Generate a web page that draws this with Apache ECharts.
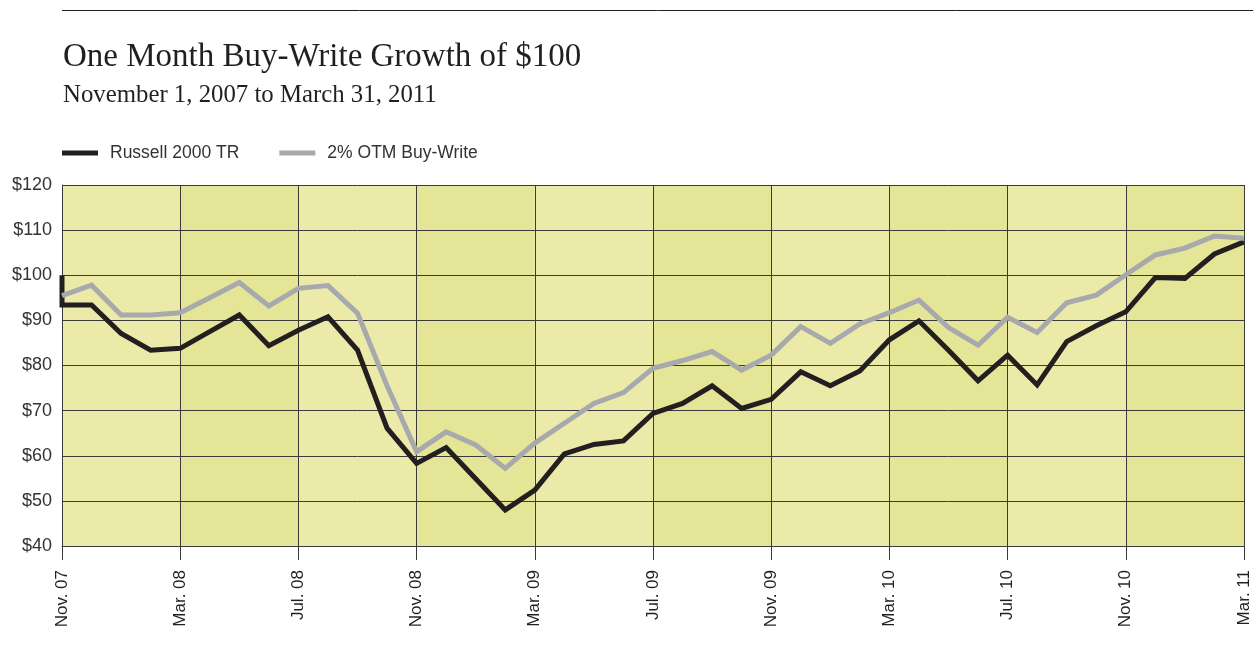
<!DOCTYPE html>
<html>
<head>
<meta charset="utf-8">
<script src="https://cdn.jsdelivr.net/npm/echarts@6/dist/echarts.min.js"></script>
<style>
  html, body { margin: 0; padding: 0; background: #fff; }
  #chart { width: 1253px; height: 661px; }
</style>
</head>
<body>
<div id="chart"></div>
<script>
// ---- Data ----
// Month index 0 = Nov. 07 ... 40 = Mar. 11
const tickLabels = ['Nov. 07', 'Mar. 08', 'Jul. 08', 'Nov. 08', 'Mar. 09', 'Jul. 09',
                    'Nov. 09', 'Mar. 10', 'Jul. 10', 'Nov. 10', 'Mar. 11'];
const russellStart = 100;
const russell2000TR = [93.4, 93.4, 87.1, 83.4, 83.8, 87.5, 91.2, 84.4, 87.8, 90.8,
                       83.4, 66.1, 58.3, 61.8, 54.9, 48.0, 52.4, 60.4, 62.5, 63.3,
                       69.4, 71.6, 75.5, 70.5, 72.5, 78.6, 75.5, 78.8, 85.7, 89.9,
                       83.4, 76.6, 82.3, 75.7, 85.3, 88.8, 91.9, 99.5, 99.3, 104.7, 107.4];
const otmBuyWrite = [95.5, 97.8, 91.2, 91.2, 91.7, 95.0, 98.4, 93.2, 97.1, 97.7,
                     91.6, 75.5, 60.9, 65.3, 62.4, 57.2, 62.8, 67.2, 71.6, 74.0,
                     79.4, 81.1, 83.1, 79.0, 82.3, 88.6, 84.9, 89.2, 91.7, 94.5,
                     88.4, 84.5, 90.7, 87.3, 93.9, 95.6, 100.1, 104.5, 106.0, 108.7, 108.2];
const seriesNames = ['Russell 2000 TR', '2% OTM Buy-Write'];

// ---- Build series data ----
const russellData = [[0, russellStart]].concat(russell2000TR.map((v, i) => [i, v]));
const otmData = otmBuyWrite.map((v, i) => [i, v]);

const chart = echarts.init(document.getElementById('chart'), null, { renderer: 'canvas' });
const sans = '"Liberation Sans", Arial, sans-serif';
const serif = '"Liberation Serif", "Times New Roman", serif';
const gridColor = '#3a3a3a';

chart.setOption({
  animation: false,
  backgroundColor: '#ffffff',
  title: [
    {
      text: 'One Month Buy-Write Growth of $100',
      left: 58, top: 36,
      textStyle: { fontFamily: serif, fontSize: 33, fontWeight: 'normal', color: '#231f20' }
    },
    {
      text: 'November 1, 2007 to March 31, 2011',
      left: 58, top: 78,
      textStyle: { fontFamily: serif, fontSize: 24.8, fontWeight: 'normal', color: '#231f20' }
    }
  ],
  graphic: [
    { type: 'line', shape: { x1: 62, y1: 10.5, x2: 1253, y2: 10.5 },
      style: { stroke: '#231f20', lineWidth: 1 } }
  ],
  legend: {
    left: 57, top: 139,
    itemWidth: 36, itemHeight: 5, itemGap: 40,
    icon: 'rect',
    textStyle: { fontFamily: sans, fontSize: 17.5, color: '#333', padding: [0, 0, 0, 7] },
    data: seriesNames
  },
  grid: { left: 62, right: 9, top: 185, bottom: 115, containLabel: false },
  xAxis: {
    type: 'value', min: 0, max: 40, interval: 4, z: 0,
    axisLine: { show: true, lineStyle: { color: gridColor, width: 1 } },
    axisTick: { show: true, length: 14, lineStyle: { color: gridColor, width: 1 } },
    axisLabel: {
      rotate: 90, margin: 24, fontFamily: sans, fontSize: 17, color: '#231f20',
      formatter: v => tickLabels[Math.round(v / 4)] || ''
    },
    splitLine: { show: true, lineStyle: { color: gridColor, width: 1 } },
    splitArea: { show: true, areaStyle: { color: ['#ebeaa9', '#e5e597'] } }
  },
  yAxis: {
    type: 'value', min: 40, max: 120, interval: 10, z: 1,
    axisLine: { show: true, lineStyle: { color: gridColor, width: 1 } },
    axisTick: { show: false },
    axisLabel: { margin: 10, fontFamily: sans, fontSize: 18, color: '#333',
                 formatter: v => '$' + v },
    splitLine: { show: true, lineStyle: { color: gridColor, width: 1 } }
  },
  series: [
    {
      name: seriesNames[0], type: 'line', data: russellData,
      symbol: 'none', clip: false, z: 3,
      itemStyle: { color: '#231f20' },
      lineStyle: { color: '#231f20', width: 5, join: 'miter', cap: 'butt' }
    },
    {
      name: seriesNames[1], type: 'line', data: otmData,
      symbol: 'none', clip: false, z: 4,
      itemStyle: { color: '#a7a9ac' },
      lineStyle: { color: '#a7a9ac', width: 5, join: 'miter', cap: 'butt' }
    }
  ]
});
</script>
</body>
</html>
